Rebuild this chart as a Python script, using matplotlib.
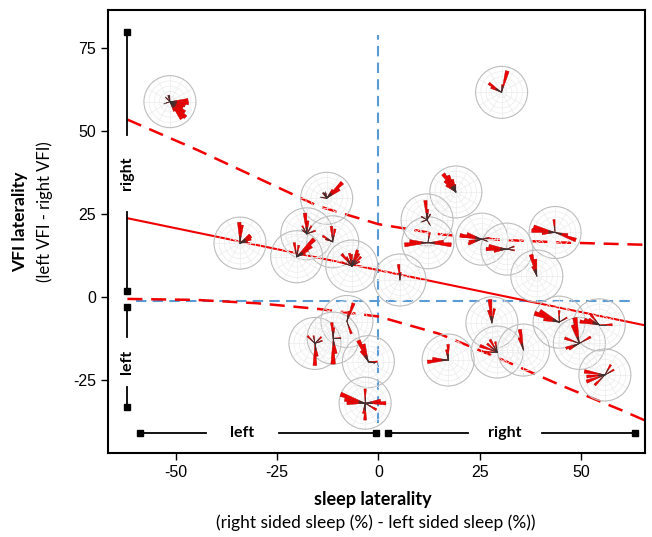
import numpy as np
import matplotlib.pyplot as plt
from matplotlib import transforms
from matplotlib.patches import Circle, Wedge

plt.rcParams['font.family'] = ['Lato', 'DejaVu Sans']
plt.rcParams['axes.unicode_minus'] = False

# centre of each bird's rose (sleep laterality, VFI laterality)
bird_x = [-51.5, 30.4, -12.8, 19.1, 12.0, 12.2, 25.5, 31.7, 43.6, 39.1,
          -34.2, -17.7, -11.3, -20.2, -6.6, 5.3, -7.8, -15.7, -11.2, -2.5,
          -3.3, 17.2, 28.0, 29.3, 35.8, 44.6, 49.6, 54.5, 55.9]
bird_y = [58.9, 61.7, 29.8, 31.7, 23.3, 16.4, 17.5, 14.5, 19.5, 6.4,
          16.3, 19.1, 16.7, 12.2, 9.4, 5.2, -7.3, -13.9, -12.3, -19.4,
          -31.9, -18.9, -7.7, -16.5, -15.9, -7.5, -13.9, -8.3, -23.4]
# rose petals per bird: (direction in degrees, length relative to rose radius)
petals = [
    [(5, .7), (-5, .72), (-15, .6), (-25, .55), (-35, .7), (-45, .85), (-55, .8),
     (-65, .4), (135, .2), (95, .2), (105, .25), (200, .15)],
    [(75, .85), (85, .3), (145, .6), (155, .45)],
    [(45, .85), (35, .6), (55, .4), (125, .25), (115, .2), (170, .2), (100, .2)],
    [(125, .85), (115, .7), (135, .6), (105, .5), (145, .45), (95, .3)],
    [(95, .75), (85, .4), (60, .25), (150, .25), (200, .2), (-60, .2)],
    [(185, .9), (175, .7), (-5, .9), (5, .6), (80, .4)],
    [(170, .85), (160, .6), (200, .55), (190, .5), (10, .3), (-20, .2)],
    [(180, .8), (170, .7), (190, .5), (20, .3), (-10, .3)],
    [(175, .9), (165, .85), (185, .5), (95, .5), (-20, .85), (-10, .5)],
    [(105, .85), (95, .65), (115, .4)],
    [(92, .8), (84, .7), (40, .5), (20, .45), (30, .5), (10, .3)],
    [(95, .8), (85, .5), (60, .35), (120, .35), (20, .35), (140, .2)],
    [(95, .6), (150, .45), (80, .5), (160, .3)],
    [(45, .95), (35, .7), (100, .55), (30, .5), (80, .45), (20, .35)],
    [(70, .65), (100, .5), (130, .6), (60, .55), (30, .35), (160, .4),
     (90, .45), (120, .4), (45, .5)],
    [(95, .6), (85, .3)],
    [(70, .75), (-70, .5), (80, .4)],
    [(-90, .85), (-80, .5), (135, .4), (45, .35), (20, .3), (100, .3)],
    [(-90, 1.0), (-80, .6), (95, .6), (85, .4), (0, .3)],
    [(115, .9), (105, .7), (125, .5), (0, .35), (-10, .25)],
    [(160, 1.0), (170, .8), (180, .7), (0, .8), (10, .6), (-90, .65), (90, .55),
     (-30, .5), (-100, .4)],
    [(185, .8), (175, .6), (90, .6), (100, .4)],
    [(95, .9), (80, .55), (105, .5)],
    [(160, .7), (120, .55), (180, .5), (140, .5), (100, .4)],
    [(100, .8), (110, .5)],
    [(160, 1.0), (150, .85), (90, .45), (30, .35), (170, .6)],
    [(100, 1.0), (110, .75), (160, .6), (200, .55), (30, .5), (210, .45)],
    [(170, .75), (130, .5), (0, .5), (160, .6), (150, .45)],
    [(170, .8), (200, .75), (60, .45), (30, .4), (225, .55), (185, .7)],
]

# regression line and its confidence band
fit_x = [-62, 66]
fit_y = [23.8, -8.5]
band_x = [-62, -45, -30, -15, 0, 15, 30, 45, 60, 66]
band_hi = [53.5, 44.5, 36.0, 27.5, 22.0, 19.0, 17.3, 16.5, 16.0, 15.8]
band_lo = [-0.5, -0.8, -1.8, -3.5, -5.8, -11.0, -18.5, -26.5, -34.0, -37.2]

ROSE_R = 0.26  # inches
RED = '#f00000'
BLUE = '#5b9bd5'

fig = plt.figure(figsize=(6.52, 5.37), dpi=100)
ax = fig.add_axes([0.1656, 0.1564, 0.8236, 0.825])
ax.set_xlim(-66.8, 65.8)
ax.set_ylim(-46.9, 86.5)

# reference lines
ax.plot([0, 0], [-38, 79], color=BLUE, lw=1.5, ls=(0, (5, 3)), zorder=1)
ax.plot([-60, 63], [-1, -1], color=BLUE, lw=1.5, ls=(0, (5, 3)), zorder=1)

ax.plot(fit_x, fit_y, color=RED, lw=1.5, zorder=2)
ax.plot(band_x, band_hi, color=RED, lw=1.8, ls=(0, (6, 3.5)), zorder=2)
ax.plot(band_x, band_lo, color=RED, lw=1.8, ls=(0, (6, 3.5)), zorder=2)

# roses
for x, y, pet in zip(bird_x, bird_y, petals):
    tr = fig.dpi_scale_trans + transforms.ScaledTranslation(x, y, ax.transData)
    for k in range(1, 5):
        ax.add_patch(Circle((0, 0), ROSE_R * k / 5, transform=tr, fill=False,
                            ec='#ececec', lw=0.5, zorder=3))
    for a in np.radians(np.arange(0, 360, 30)):
        ax.plot([0, ROSE_R * np.cos(a)], [0, ROSE_R * np.sin(a)], transform=tr,
                color='#ececec', lw=0.5, zorder=3)
    ax.add_patch(Circle((0, 0), ROSE_R, transform=tr, fill=False,
                        ec='#bdbdbd', lw=0.8, zorder=3))
    for ang, ln in pet:
        ax.add_patch(Wedge((0, 0), ROSE_R * ln, ang - 5, ang + 5, transform=tr,
                           fc=RED, ec='#b00000', lw=0.3, zorder=4))
        a = np.radians(ang)
        ax.plot([0, 0.25 * ROSE_R * np.cos(a)], [0, 0.25 * ROSE_R * np.sin(a)],
                transform=tr, color='#333333', lw=0.6, zorder=5)

# side brackets
kw = dict(color='black', lw=1.3, zorder=2)
mk = dict(marker='s', ms=5, color='black', ls='none', zorder=2)
ax.plot([-62.2, -62.2], [80, 49], **kw)
ax.plot([-62.2, -62.2], [25.6, 2], **kw)
ax.plot([-62.2, -62.2], [80, 2], **mk)
ax.plot([-62.2, -62.2], [-3, -12], **kw)
ax.plot([-62.2, -62.2], [-27, -33], **kw)
ax.plot([-62.2, -62.2], [-3, -33], **mk)
ax.text(-62.2, 37.3, 'right', rotation=90, ha='center', va='center',
        fontsize=11.5, fontweight='bold')
ax.text(-62.2, -19.5, 'left', rotation=90, ha='center', va='center',
        fontsize=11.5, fontweight='bold')

ax.plot([-58.9, -42.7], [-40.8, -40.8], **kw)
ax.plot([-24.6, -0.6], [-40.8, -40.8], **kw)
ax.plot([-58.9, -0.6], [-40.8, -40.8], **mk)
ax.plot([2.3, 22], [-40.8, -40.8], **kw)
ax.plot([40.3, 63.3], [-40.8, -40.8], **kw)
ax.plot([2.3, 63.3], [-40.8, -40.8], **mk)
ax.text(-33.6, -40.8, 'left', ha='center', va='center', fontsize=11.5, fontweight='bold')
ax.text(31.2, -40.8, 'right', ha='center', va='center', fontsize=11.5, fontweight='bold')

ax.set_xticks([-50, -25, 0, 25, 50])
ax.set_yticks([-25, 0, 25, 50, 75])
ax.tick_params(direction='out', length=5, width=1, labelsize=11.5)
for lab in ax.get_xticklabels() + ax.get_yticklabels():
    lab.set_fontfamily('Liberation Sans')
for s in ax.spines.values():
    s.set_linewidth(1.5)

fig.text(20 / 652, 1 - 222 / 537, 'VFI laterality', rotation=90, ha='center',
         va='center', fontsize=12.5, fontweight='bold')
fig.text(45 / 652, 1 - 212 / 537, '(left VFI - right VFI)', rotation=90,
         ha='center', va='center', fontsize=12)
fig.text(373 / 652, 1 - 500 / 537, 'sleep laterality', ha='center', va='center',
         fontsize=13, fontweight='bold')
fig.text(376 / 652, 1 - 523 / 537, '(right sided sleep (%) - left sided sleep (%))',
         ha='center', va='center', fontsize=12.5)

fig.savefig('out.png', dpi=100)
